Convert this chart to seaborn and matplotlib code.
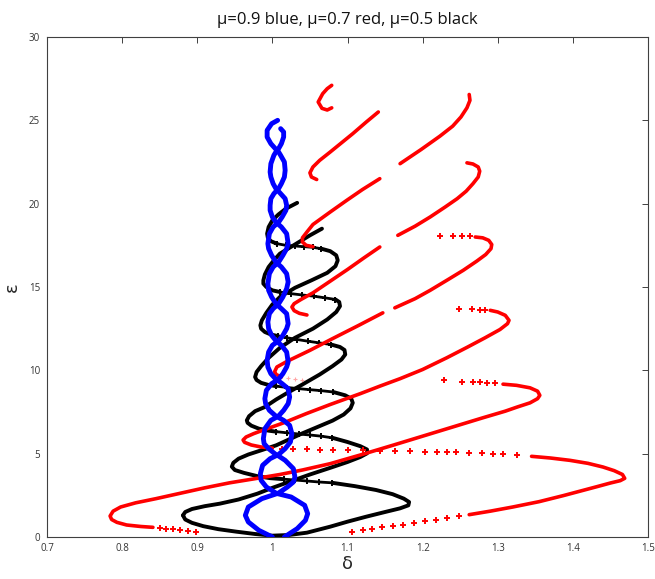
import matplotlib
matplotlib.use("Agg")
import matplotlib.pyplot as plt
import pandas as pd
import seaborn as sns

# ---------------- mu = 0.9 (blue): two braided boundaries ----------------
blue_left = [(1.000, 0.0), (0.982, 0.4), (0.968, 0.9), (0.964, 1.3), (0.968, 1.8), (0.986, 2.3), (1.006, 2.6),
             (0.992, 3.0), (0.985, 3.4), (0.984, 3.8), (0.987, 4.3), (0.997, 4.7), (1.006, 4.9),
             (0.995, 5.3), (0.989, 5.6), (0.988, 5.9), (0.990, 6.5), (0.998, 7.0), (1.006, 7.2),
             (0.996, 7.6), (0.991, 8.0), (0.990, 8.3), (0.992, 8.8), (0.999, 9.2), (1.006, 9.4),
             (0.998, 9.8), (0.994, 10.2), (0.993, 10.6), (0.995, 11.1), (1.000, 11.5), (1.006, 11.7),
             (0.999, 12.1), (0.995, 12.5), (0.994, 12.9), (0.996, 13.4), (1.001, 13.7), (1.006, 13.9),
             (0.999, 14.4), (0.995, 14.8), (0.994, 15.2), (0.996, 15.8), (1.001, 16.2), (1.006, 16.4),
             (0.999, 16.9), (0.995, 17.3), (0.994, 17.6), (0.996, 18.2), (1.001, 18.6), (1.006, 18.8),
             (1.000, 19.2), (0.997, 19.6), (0.997, 19.9), (0.998, 20.3), (1.002, 20.6), (1.006, 20.8),
             (1.001, 21.2), (0.998, 21.6), (0.997, 21.9), (0.998, 22.4), (1.002, 22.9), (1.006, 23.2),
             (0.998, 23.6), (0.993, 24.0), (0.993, 24.4), (0.999, 24.8), (1.007, 25.0)]
blue_right = [(1.016, 0.0), (1.033, 0.5), (1.044, 1.0), (1.047, 1.4), (1.043, 1.9), (1.025, 2.4), (1.007, 2.6),
              (1.020, 3.0), (1.028, 3.3), (1.030, 3.6), (1.028, 4.1), (1.017, 4.6), (1.007, 4.9),
              (1.017, 5.3), (1.024, 5.7), (1.026, 6.2), (1.023, 6.7), (1.015, 7.0), (1.007, 7.2),
              (1.015, 7.6), (1.021, 8.0), (1.023, 8.4), (1.021, 8.9), (1.013, 9.2), (1.007, 9.4),
              (1.014, 9.8), (1.019, 10.2), (1.021, 10.5), (1.019, 11.1), (1.012, 11.5), (1.007, 11.7),
              (1.014, 12.1), (1.019, 12.5), (1.021, 12.8), (1.019, 13.4), (1.012, 13.7), (1.007, 13.9),
              (1.014, 14.4), (1.019, 14.9), (1.021, 15.3), (1.019, 15.8), (1.012, 16.2), (1.007, 16.4),
              (1.014, 16.9), (1.019, 17.3), (1.021, 17.6), (1.019, 18.2), (1.012, 18.6), (1.007, 18.8),
              (1.013, 19.2), (1.018, 19.6), (1.019, 19.9), (1.017, 20.3), (1.011, 20.6), (1.007, 20.8),
              (1.012, 21.2), (1.016, 21.6), (1.017, 22.0), (1.016, 22.5), (1.011, 22.9), (1.007, 23.2),
              (1.012, 23.6), (1.015, 24.0), (1.015, 24.3), (1.011, 24.5)]

# ---------------- mu = 0.7 (red) ----------------
red_l1_lower_dots = [(0.899, 0.32), (0.888, 0.38), (0.877, 0.42), (0.868, 0.46), (0.859, 0.50), (0.850, 0.54)]
red_l1_curve = [(0.841, 0.58), (0.825, 0.63), (0.806, 0.72), (0.793, 0.88), (0.786, 1.05), (0.784, 1.26),
                (0.788, 1.55), (0.798, 1.80), (0.818, 2.05), (0.845, 2.30), (0.877, 2.62), (0.910, 2.95),
                (0.943, 3.25), (0.977, 3.50), (1.010, 3.75), (1.040, 4.02), (1.077, 4.40), (1.117, 4.92),
                (1.160, 5.50), (1.200, 6.05), (1.240, 6.60), (1.280, 7.15), (1.310, 7.55), (1.326, 7.80),
                (1.343, 8.05), (1.353, 8.30), (1.356, 8.50), (1.353, 8.75), (1.343, 8.95), (1.325, 9.10),
                (1.307, 9.17)]
red_r1_dots = [(1.296, 9.24), (1.286, 9.27), (1.276, 9.28), (1.267, 9.30), (1.252, 9.32), (1.229, 9.40)]
red_l3_faint = [(1.040, 9.43), (1.030, 9.47), (1.021, 9.53)]

red_r0_lower_dots = [(1.106, 0.32), (1.120, 0.42), (1.133, 0.50), (1.146, 0.58), (1.160, 0.66), (1.174, 0.75),
                     (1.188, 0.85), (1.203, 0.95), (1.218, 1.04), (1.233, 1.14), (1.248, 1.24)]
red_r0_curve = [(1.262, 1.34), (1.290, 1.55), (1.320, 1.80), (1.355, 2.12), (1.387, 2.48), (1.412, 2.78),
                (1.432, 3.02), (1.450, 3.24), (1.463, 3.38), (1.469, 3.52), (1.466, 3.75), (1.455, 3.98),
                (1.440, 4.20), (1.420, 4.42), (1.396, 4.60), (1.370, 4.74), (1.345, 4.84)]
red_r0_return_dots = [(1.326, 4.90), (1.307, 4.97), (1.294, 5.00), (1.279, 5.04), (1.262, 5.06), (1.245, 5.09),
                      (1.232, 5.10), (1.219, 5.12), (1.203, 5.13), (1.183, 5.15), (1.163, 5.17), (1.143, 5.18),
                      (1.121, 5.20), (1.100, 5.22), (1.081, 5.23), (1.063, 5.25), (1.046, 5.26), (1.027, 5.28),
                      (1.013, 5.30)]
red_l2_curve = [(1.000, 5.33), (0.985, 5.40), (0.972, 5.52), (0.963, 5.68), (0.961, 5.82), (0.965, 6.00),
                (0.975, 6.20), (0.990, 6.45), (1.015, 6.85), (1.045, 7.40), (1.077, 7.95), (1.117, 8.60),
                (1.143, 9.05), (1.170, 9.50), (1.200, 10.05), (1.232, 10.75), (1.260, 11.40), (1.283, 11.95),
                (1.303, 12.45), (1.313, 12.80), (1.315, 13.00), (1.310, 13.30), (1.300, 13.50), (1.290, 13.60)]
red_r2_dots = [(1.283, 13.62), (1.276, 13.65), (1.266, 13.67), (1.249, 13.70)]

red_l3_first = [(1.012, 9.60), (1.005, 9.75), (1.003, 9.92), (1.006, 10.20), (1.020, 10.55), (1.050, 11.20),
                (1.080, 11.90), (1.115, 12.70), (1.147, 13.45)]
red_l3_second = [(1.163, 13.75), (1.190, 14.30), (1.210, 14.80), (1.234, 15.45), (1.254, 16.00), (1.272, 16.55),
                 (1.284, 16.95), (1.291, 17.30), (1.292, 17.55), (1.288, 17.80), (1.280, 17.95), (1.270, 18.00)]
red_r3_dots = [(1.263, 18.03), (1.252, 18.04), (1.240, 18.05), (1.223, 18.05)]

red_l4_first = [(1.046, 13.32), (1.036, 13.42), (1.029, 13.58), (1.026, 13.80), (1.029, 14.00), (1.038, 14.25),
                (1.054, 14.65), (1.077, 15.35), (1.100, 16.05), (1.122, 16.75), (1.143, 17.40)]
red_l4_second = [(1.167, 18.10), (1.190, 18.65), (1.210, 19.20), (1.230, 19.80), (1.246, 20.30), (1.258, 20.75),
                 (1.267, 21.20), (1.274, 21.60), (1.276, 21.95), (1.274, 22.20), (1.267, 22.38), (1.259, 22.45)]

red_l5_first = [(1.054, 17.42), (1.045, 17.50), (1.040, 17.70), (1.040, 17.95), (1.046, 18.30), (1.054, 18.75),
                (1.077, 19.50), (1.099, 20.20), (1.120, 20.85), (1.143, 21.50)]
red_l5_second = [(1.170, 22.40), (1.198, 23.25), (1.223, 24.05), (1.240, 24.65), (1.251, 25.20), (1.259, 25.75),
                 (1.263, 26.20), (1.262, 26.55)]

red_l6 = [(1.059, 21.45), (1.052, 21.60), (1.050, 21.85), (1.054, 22.20), (1.063, 22.60), (1.077, 23.10),
          (1.092, 23.65), (1.107, 24.20), (1.125, 24.90), (1.141, 25.50)]
red_l7 = [(1.079, 25.75), (1.073, 25.62), (1.066, 25.72), (1.061, 26.10), (1.067, 26.60), (1.073, 26.90),
          (1.079, 27.10)]

# ---------------- mu = 0.5 (black) ----------------
black_bottom = [(0.881, 1.30), (0.884, 1.05), (0.893, 0.85), (0.908, 0.65), (0.928, 0.47), (0.952, 0.32),
                (0.977, 0.18), (1.000, 0.08), (1.022, 0.12), (1.046, 0.26), (1.077, 0.62), (1.100, 0.92),
                (1.125, 1.22), (1.150, 1.50), (1.170, 1.72), (1.181, 1.90), (1.182, 2.10), (1.175, 2.30),
                (1.160, 2.57), (1.138, 2.82), (1.110, 3.05), (1.080, 3.25)]
black_r0_dots = [(1.080, 3.25), (1.062, 3.30), (1.046, 3.36), (1.030, 3.42), (1.015, 3.47)]
black_l2 = [(1.015, 3.47), (0.997, 3.53), (0.980, 3.65), (0.962, 3.85), (0.950, 4.02), (0.946, 4.22),
            (0.948, 4.45), (0.955, 4.70), (0.968, 4.95), (0.985, 5.20), (1.005, 5.50), (1.022, 5.85),
            (1.040, 6.22), (1.060, 6.60), (1.080, 6.98), (1.095, 7.35), (1.104, 7.72), (1.107, 8.05),
            (1.105, 8.30), (1.097, 8.50), (1.081, 8.70)]
black_r2_dots = [(1.081, 8.70), (1.065, 8.78), (1.050, 8.84), (1.035, 8.90), (1.020, 8.97), (1.005, 9.05)]
black_l1 = [(0.881, 1.30), (0.884, 1.50), (0.893, 1.68), (0.910, 1.85), (0.930, 2.00), (0.955, 2.25),
            (0.980, 2.60), (1.000, 2.95), (1.025, 3.35), (1.050, 3.75), (1.077, 4.15), (1.100, 4.50),
            (1.117, 4.80), (1.126, 5.02), (1.126, 5.25), (1.117, 5.45), (1.100, 5.70), (1.080, 5.95)]
black_r1_dots = [(1.080, 5.95), (1.065, 6.05), (1.050, 6.12), (1.035, 6.18), (1.020, 6.25), (1.005, 6.32)]
black_l3 = [(1.005, 6.32), (0.995, 6.38), (0.982, 6.50), (0.972, 6.68), (0.967, 6.85), (0.966, 7.00),
            (0.969, 7.25), (0.977, 7.55), (0.990, 7.80), (1.005, 8.25), (1.020, 8.65), (1.040, 9.15),
            (1.063, 9.75), (1.080, 10.25), (1.092, 10.65), (1.097, 10.95), (1.096, 11.22), (1.090, 11.40),
            (1.078, 11.55)]
black_r3_dots = [(1.078, 11.55), (1.062, 11.65), (1.047, 11.75), (1.033, 11.85), (1.020, 11.95), (1.008, 12.05)]
black_l4 = [(1.005, 9.05), (0.995, 9.12), (0.985, 9.25), (0.979, 9.42), (0.977, 9.60), (0.979, 9.90),
            (0.985, 10.25), (0.995, 10.75), (1.010, 11.35), (1.030, 11.95), (1.054, 12.50), (1.073, 13.05),
            (1.085, 13.50), (1.090, 13.85), (1.089, 14.10), (1.084, 14.25)]
black_r4_dots = [(1.084, 14.25), (1.070, 14.35), (1.055, 14.45), (1.040, 14.52), (1.025, 14.60), (1.010, 14.70)]
black_l5 = [(1.008, 12.05), (0.998, 12.15), (0.990, 12.30), (0.985, 12.50), (0.984, 12.70), (0.986, 13.00),
            (0.992, 13.45), (1.000, 13.95), (1.010, 14.40), (1.030, 14.95), (1.052, 15.40), (1.073, 15.85),
            (1.084, 16.25), (1.087, 16.60), (1.085, 16.90), (1.077, 17.15), (1.065, 17.30)]
black_r5_dots = [(1.065, 17.30), (1.054, 17.38), (1.042, 17.42), (1.030, 17.46), (1.018, 17.50), (1.006, 17.60)]
black_l6 = [(1.010, 14.70), (1.000, 14.80), (0.992, 15.00), (0.988, 15.20), (0.988, 15.40), (0.990, 15.75),
            (0.995, 16.20), (1.002, 16.60), (1.010, 17.00), (1.030, 17.55), (1.050, 18.10), (1.066, 18.50)]
black_l7 = [(1.006, 17.60), (0.998, 17.75), (0.994, 17.95), (0.993, 18.20), (0.995, 18.60), (1.000, 19.00),
            (1.008, 19.35), (1.018, 19.70), (1.033, 20.05)]

title_text = "\u03bc=0.9 blue, \u03bc=0.7 red, \u03bc=0.5 black"
x_ticks = [0.7, 0.8, 0.9, 1.0, 1.1, 1.2, 1.3, 1.4, 1.5]
x_tick_labels = ["0.7", "0.8", "0.9", "1", "1.1", "1.2", "1.3", "1.4", "1.5"]
y_ticks = [0, 5, 10, 15, 20, 25, 30]
y_tick_labels = ["0", "5", "10", "15", "20", "25", "30"]

RED = "#ff0000"
BLUE = "#0000ff"
BLACK = "#000000"

sns.set_style("white")
plt.rcParams["font.family"] = ["Open Sans", "DejaVu Sans"]

fig = plt.figure(figsize=(6.55, 5.79), dpi=100)
ax = fig.add_axes([47 / 655, 42 / 579, 601 / 655, 500 / 579])


def frame(pts):
    return pd.DataFrame(pts, columns=["x", "y"])


def curve(pts, color, lw, z, alpha=1.0):
    sns.lineplot(data=frame(pts), x="x", y="y", sort=False, estimator=None, color=color,
                 lw=lw, ax=ax, zorder=z, alpha=alpha, solid_capstyle="round", solid_joinstyle="round")


def plus_marks(pts, color, size, z, lw=1.2, alpha=1.0):
    sns.scatterplot(data=frame(pts), x="x", y="y", marker="+", s=size, color=color,
                    linewidth=lw, ax=ax, zorder=z, alpha=alpha, legend=False)


def plus_chain(pts, color, z):
    curve(pts, color, 2.0, z)
    plus_marks(pts, color, 18, z, lw=1.4)


# black boundaries (underneath)
for seg in [black_bottom, black_l2, black_l1, black_l3, black_l4, black_l5, black_l6, black_l7]:
    curve(seg, BLACK, 2.8, 2)
for seg in [black_r0_dots, black_r2_dots, black_r1_dots, black_r3_dots, black_r4_dots, black_r5_dots]:
    plus_chain(seg, BLACK, 2)

# red boundaries
for seg in [red_l1_curve, red_r0_curve, red_l2_curve, red_l3_first, red_l3_second, red_l4_first,
            red_l4_second, red_l5_first, red_l5_second, red_l6, red_l7]:
    curve(seg, RED, 2.6, 3)
for seg in [red_l1_lower_dots, red_r0_lower_dots, red_r0_return_dots, red_r1_dots, red_r2_dots, red_r3_dots]:
    plus_marks(seg, RED, 18, 3, lw=1.4)
plus_marks(red_l3_faint, RED, 10, 3, lw=0.8, alpha=0.35)

# blue braid on top
curve(blue_left, BLUE, 3.5, 4)
curve(blue_right, BLUE, 3.5, 4)

ax.set_xlim(0.7, 1.5)
ax.set_ylim(0, 30)
ax.set_xticks(x_ticks)
ax.set_xticklabels(x_tick_labels)
ax.set_yticks(y_ticks)
ax.set_yticklabels(y_tick_labels)
ax.tick_params(axis="both", which="both", direction="in", length=4, width=0.7, color="#404040",
               labelsize=7, labelcolor="#333333", top=True, right=True)
ax.tick_params(axis="x", pad=4)
ax.tick_params(axis="y", pad=5)
for sp in ax.spines.values():
    sp.set_color("#404040")
    sp.set_linewidth(0.8)

ax.set_title(title_text, fontsize=12, pad=9, color="#111111")
ax.set_xlabel("\u03b4", fontsize=13, labelpad=1, family=["DejaVu Sans"])
ax.set_ylabel("\u03b5", fontsize=13, labelpad=6, family=["DejaVu Sans"])

fig.savefig("out.png", dpi=100, facecolor="white")
